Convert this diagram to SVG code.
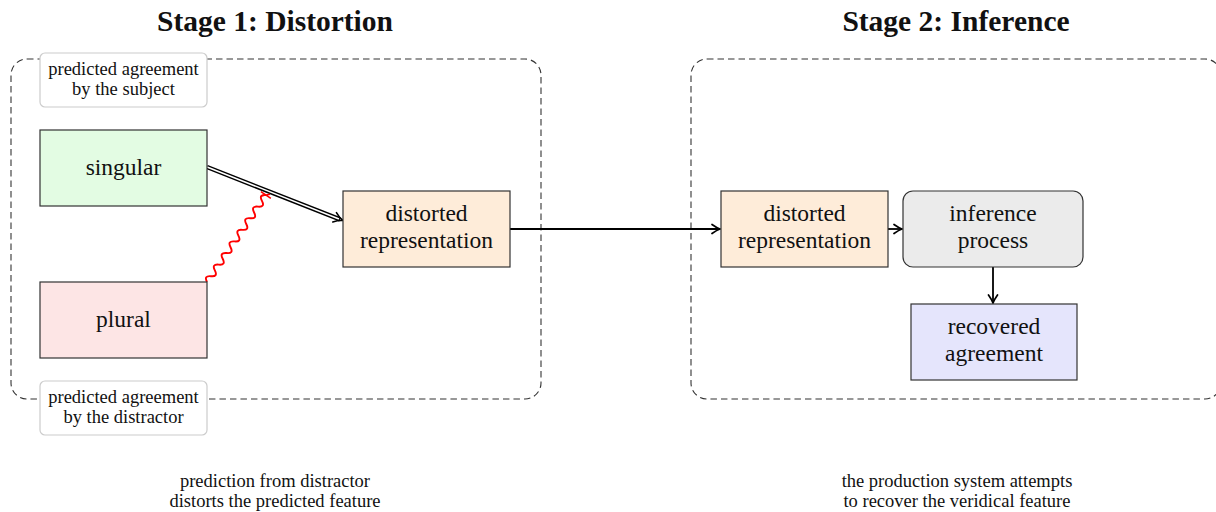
<svg xmlns="http://www.w3.org/2000/svg" width="1216" height="512" viewBox="0 0 1216 512">
<defs>
<style>
.t{font-family:"Liberation Serif","Times New Roman","DejaVu Serif",serif;fill:#111;text-anchor:middle}
.title{font-size:29.5px;font-weight:bold}
.node{font-size:23.5px}
.lbl{font-size:18.5px}
.stage{fill:none;stroke:#333;stroke-width:1.1;stroke-dasharray:6.5 4}
.box{stroke:#333;stroke-width:1.2}
.tag{fill:#fff;stroke:#ccc;stroke-width:1.2}
.edge{fill:none;stroke:#000;stroke-width:1.8}
</style>
<marker id="arr" viewBox="-10 -6 12 12" refX="0" refY="0" markerWidth="12" markerHeight="12" markerUnits="userSpaceOnUse" orient="auto">
<path d="M-8,-4.5 Q-3,-1 0,0 Q-3,1 -8,4.5" fill="none" stroke="#000" stroke-width="1.7" stroke-linecap="round"/>
</marker>
</defs>
<rect width="1216" height="512" fill="#fff"/>

<g id="titles">
<text class="t title" x="275" y="31">Stage 1: Distortion</text>
<text class="t title" x="956" y="31">Stage 2: Inference</text>
</g>

<g id="stage1"><rect class="stage" x="11" y="59" width="530" height="340" rx="16"/></g>
<g id="stage2"><rect class="stage" x="691" y="59" width="530" height="340" rx="16"/></g>

<g id="connectors">
<path d="M207,167 L340,219.4" fill="none" stroke="#000" stroke-width="4.4"/>
<path d="M207,167 L339,219" fill="none" stroke="#fff" stroke-width="1.6"/>
<g transform="translate(343,220.5) rotate(21.3)"><path d="M-9,-5 Q-4,-1 0,0 Q-4,1 -9,5" fill="none" stroke="#000" stroke-width="1.6" stroke-linecap="round"/></g>
<g transform="translate(207,282) rotate(-55.9)">
<path d="M0,0 q3.5,-6.5 7,0 t7,0 t7,0 t7,0 t7,0 t7,0 t7,0 t7,0 t7,0 t7,0 t7,0 t7,0 t7,0 t7,0 t7,0" fill="none" stroke="#f00" stroke-width="1.9"/>
<path d="M105,-6 L105,6 M102,-3 L108,3" fill="none" stroke="#f00" stroke-width="1.5"/>
</g>
<path class="edge" d="M510,229 L720,229" marker-end="url(#arr)"/>
<path class="edge" d="M888,229 L902,229" marker-end="url(#arr)"/>
<path class="edge" d="M993,267 L993,303" marker-end="url(#arr)"/>
</g>

<g id="subject-label">
<rect class="tag" x="40" y="53" width="167" height="54" rx="5"/>
<text class="t lbl" x="123.5" y="75">predicted agreement</text>
<text class="t lbl" x="123.5" y="95">by the subject</text>
</g>
<g id="singular">
<rect class="box" x="40" y="130" width="167" height="76" fill="#e3fce3"/>
<text class="t node" x="123.5" y="175">singular</text>
</g>
<g id="plural">
<rect class="box" x="40" y="282" width="167" height="76" fill="#fde5e5"/>
<text class="t node" x="123.5" y="327">plural</text>
</g>
<g id="distractor-label">
<rect class="tag" x="40" y="381" width="167" height="54" rx="5"/>
<text class="t lbl" x="123.5" y="403">predicted agreement</text>
<text class="t lbl" x="123.5" y="423">by the distractor</text>
</g>
<g id="distorted1">
<rect class="box" x="343" y="191" width="167" height="76" fill="#feecd9"/>
<text class="t node" x="426.5" y="221">distorted</text>
<text class="t node" x="426.5" y="248">representation</text>
</g>
<g id="distorted2">
<rect class="box" x="721" y="191" width="167" height="76" fill="#feecd9"/>
<text class="t node" x="804.5" y="221">distorted</text>
<text class="t node" x="804.5" y="248">representation</text>
</g>
<g id="inference">
<rect class="box" x="903" y="191" width="180" height="76" rx="10" fill="#ebebeb"/>
<text class="t node" x="993" y="221">inference</text>
<text class="t node" x="993" y="248">process</text>
</g>
<g id="recovered">
<rect class="box" x="911" y="304" width="166" height="76" fill="#e5e5fc"/>
<text class="t node" x="994" y="334">recovered</text>
<text class="t node" x="994" y="361">agreement</text>
</g>

<g id="captions">
<text class="t lbl" x="275" y="487">prediction from distractor</text>
<text class="t lbl" x="275" y="507">distorts the predicted feature</text>
<text class="t lbl" x="957" y="487">the production system attempts</text>
<text class="t lbl" x="957" y="507">to recover the veridical feature</text>
</g>
</svg>
